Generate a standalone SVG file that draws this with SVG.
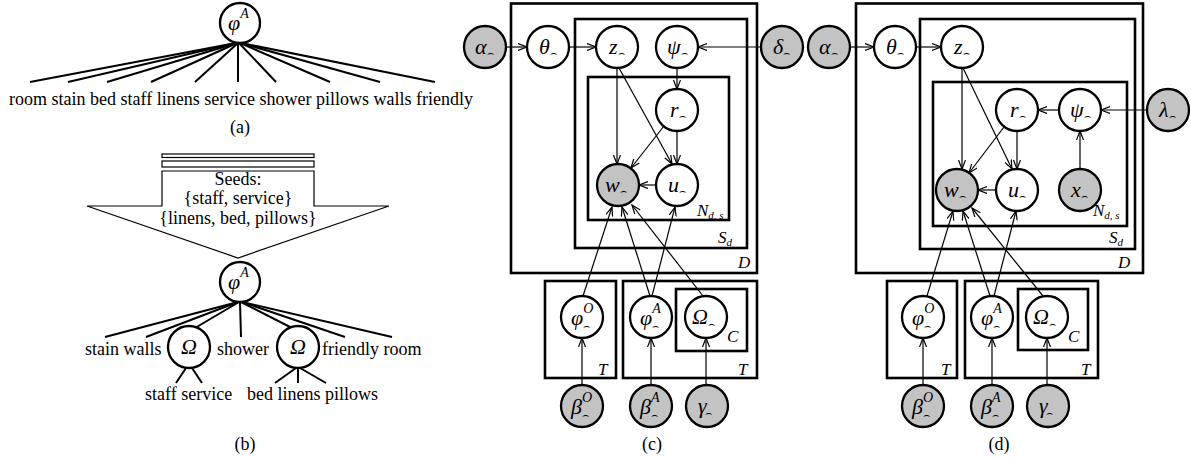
<svg xmlns="http://www.w3.org/2000/svg" width="1191" height="459" viewBox="0 0 1191 459">
<style>
  .bg { fill:#fff }
  .n { fill:#fff; stroke:#000; stroke-width:2.3 }
  .g { fill:#c3c3c3; stroke:#000; stroke-width:2.3 }
  .plate { fill:none; stroke:#000; stroke-width:2.6 }
  .e { stroke:#000; stroke-width:1.2; fill:none; marker-end:url(#ah) }
  .ln { stroke:#000; stroke-width:2; fill:none }
  .thin { stroke:#000; stroke-width:1.2; fill:none }
  text { font-family:'Liberation Serif','Times New Roman','DejaVu Serif',serif; fill:#000 }
  .t { font-size:18px }
  .tc { font-size:18px; text-anchor:middle }
  .m { font-style:italic; font-size:22px }
  .sup { font-size:14px }
  .arc { font-family:'DejaVu Sans',sans-serif; font-style:normal; font-size:11px }
  .pl { font-style:italic; font-size:17px }
  .pls { font-size:11px }
</style>
<defs>
  <marker id="ah" markerUnits="userSpaceOnUse" markerWidth="12" markerHeight="10" refX="9" refY="4" orient="auto">
    <path d="M0,0.5 L9,4 L0,7.5" fill="none" stroke="#000" stroke-width="1.2"/>
  </marker>
</defs>
<rect class="bg" width="1191" height="459"/>

<!-- (a) flat word distribution -->
<g id="a-tree">
  <g class="ln">
    <line x1="236" y1="43" x2="30" y2="82"/>
    <line x1="236" y1="43" x2="68" y2="82"/>
    <line x1="237" y1="43" x2="107" y2="82"/>
    <line x1="237" y1="43" x2="151" y2="82"/>
    <line x1="238" y1="43" x2="195" y2="82"/>
    <line x1="238" y1="43" x2="238" y2="82"/>
    <line x1="239" y1="43" x2="276" y2="82"/>
    <line x1="240" y1="43" x2="330" y2="82"/>
    <line x1="240" y1="43" x2="380" y2="82"/>
    <line x1="241" y1="43" x2="435" y2="82"/>
  </g>
  <text class="t" x="9" y="105">room stain bed staff linens service shower pillows walls friendly</text>
</g>
<g id="a-phi">
  <circle class="n" cx="240" cy="23" r="20"/>
  <text class="m" x="228" y="30">φ<tspan class="sup" dy="-12">A</tspan></text>
</g>
<text class="tc" x="240" y="133">(a)</text>

<!-- (b) seeded hierarchy -->
<g id="b-seeds">
  <rect class="thin" x="162" y="154" width="152" height="3.5"/>
  <rect class="thin" x="162" y="161" width="152" height="6"/>
  <path class="thin" d="M162,206 L162,171 L314,171 L314,206 L389,206 L238,258 L87,206 Z"/>
  <text class="tc" x="238" y="185">Seeds:</text>
  <text class="tc" x="238" y="204">{staff, service}</text>
  <text class="tc" x="238" y="224">{linens, bed, pillows}</text>
</g>
<g id="b-tree">
  <g class="ln">
    <line x1="238" y1="302" x2="105" y2="337"/>
    <line x1="238" y1="302" x2="146" y2="337"/>
    <line x1="239" y1="302" x2="195" y2="328"/>
    <line x1="240" y1="302" x2="241" y2="337"/>
    <line x1="241" y1="302" x2="292" y2="328"/>
    <line x1="242" y1="302" x2="345" y2="337"/>
    <line x1="242" y1="302" x2="392" y2="337"/>
    <line x1="186" y1="368" x2="176" y2="383"/>
    <line x1="192" y1="368" x2="202" y2="383"/>
    <line x1="296" y1="368" x2="275" y2="383"/>
    <line x1="298" y1="368" x2="298" y2="383"/>
    <line x1="300" y1="368" x2="326" y2="383"/>
  </g>
  <text class="t" x="85" y="355">stain walls</text>
  <text class="t" x="217" y="355">shower</text>
  <text class="t" x="322" y="355">friendly room</text>
  <text class="t" x="145" y="400">staff service</text>
  <text class="t" x="247" y="400">bed linens pillows</text>
</g>
<g id="b-phi">
  <circle class="n" cx="240" cy="282" r="20"/>
  <text class="m" x="228" y="289">φ<tspan class="sup" dy="-12">A</tspan></text>
</g>
<g id="b-omega1">
  <circle class="n" cx="189" cy="347" r="21"/>
  <text class="m" x="189" y="354" text-anchor="middle">Ω</text>
</g>
<g id="b-omega2">
  <circle class="n" cx="298" cy="347" r="21"/>
  <text class="m" x="298" y="354" text-anchor="middle">Ω</text>
</g>
<text class="tc" x="245" y="450">(b)</text>

<!-- (c) plates -->
<g id="c-plates">
  <rect class="plate" x="511" y="3.5" width="246" height="269.5"/>
  <rect class="plate" x="575" y="19" width="172" height="229"/>
  <rect class="plate" x="588" y="77" width="141" height="143"/>
  <rect class="plate" x="545" y="281" width="71" height="97"/>
  <rect class="plate" x="623" y="281" width="134" height="97"/>
  <rect class="plate" x="676" y="289" width="71" height="62"/>
  <text class="pl" x="697" y="216">N<tspan class="pls" dy="3">d, s</tspan></text>
  <text class="pl" x="718" y="243">S<tspan class="pls" dy="3">d</tspan></text>
  <text class="pl" x="738" y="268">D</text>
  <text class="pl" x="598" y="375">T</text>
  <text class="pl" x="738" y="375">T</text>
  <text class="pl" x="727" y="342">C</text>
</g>
<g id="c-edges">
  <line class="e" x1="506" y1="47" x2="527" y2="47"/>
  <line class="e" x1="569" y1="47" x2="596" y2="47"/>
  <line class="e" x1="761" y1="47" x2="698" y2="47"/>
  <line class="e" x1="677" y1="68" x2="677" y2="89"/>
  <line class="e" x1="617" y1="68" x2="617" y2="164"/>
  <line class="e" x1="619" y1="68" x2="672" y2="164"/>
  <line class="e" x1="664" y1="126" x2="631" y2="168"/>
  <line class="e" x1="677" y1="131" x2="677" y2="164"/>
  <line class="e" x1="656" y1="185" x2="639" y2="185"/>
  <line class="e" x1="583" y1="296" x2="612" y2="207"/>
  <line class="e" x1="650" y1="296" x2="622" y2="207"/>
  <line class="e" x1="652" y1="296" x2="675" y2="207"/>
  <line class="e" x1="703" y1="296" x2="632" y2="205"/>
  <line class="e" x1="582" y1="385" x2="582" y2="338"/>
  <line class="e" x1="651" y1="385" x2="651" y2="338"/>
  <line class="e" x1="706" y1="385" x2="706" y2="338"/>
</g>
<g id="c-alpha"><circle class="g" cx="485" cy="47" r="21"/><text class="m" x="475" y="54">α<tspan class="arc" dy="3">⌢</tspan></text></g>
<g id="c-theta"><circle class="n" cx="548" cy="47" r="21"/><text class="m" x="539" y="54">θ<tspan class="arc" dy="3">⌢</tspan></text></g>
<g id="c-z"><circle class="n" cx="617" cy="47" r="21"/><text class="m" x="609" y="54">z<tspan class="arc" dy="3">⌢</tspan></text></g>
<g id="c-psi"><circle class="n" cx="677" cy="47" r="21"/><text class="m" x="667" y="54">ψ<tspan class="arc" dy="3">⌢</tspan></text></g>
<g id="c-delta"><circle class="g" cx="782" cy="47" r="21"/><text class="m" x="773" y="54">δ<tspan class="arc" dy="3">⌢</tspan></text></g>
<g id="c-r"><circle class="n" cx="677" cy="110" r="21"/><text class="m" x="670" y="117">r<tspan class="arc" dy="3">⌢</tspan></text></g>
<g id="c-w"><circle class="g" cx="618" cy="185" r="21"/><text class="m" x="605" y="192">w<tspan class="arc" dy="3">⌢</tspan></text></g>
<g id="c-u"><circle class="n" cx="677" cy="185" r="21"/><text class="m" x="668" y="192">u<tspan class="arc" dy="3">⌢</tspan></text></g>
<g id="c-phiO"><circle class="n" cx="582" cy="317" r="21"/><text class="m" x="571" y="325">φ<tspan class="sup" dy="-12">O</tspan><tspan class="arc" dx="-10" dy="17">⌢</tspan></text></g>
<g id="c-phiA"><circle class="n" cx="651" cy="317" r="21"/><text class="m" x="640" y="325">φ<tspan class="sup" dy="-12">A</tspan><tspan class="arc" dx="-8.6" dy="17">⌢</tspan></text></g>
<g id="c-omega"><circle class="n" cx="706" cy="317" r="21"/><text class="m" x="692" y="324">Ω<tspan class="arc" dy="4">⌢</tspan></text></g>
<g id="c-betaO"><circle class="g" cx="582" cy="406" r="21"/><text class="m" x="571" y="414">β<tspan class="sup" dy="-12">O</tspan><tspan class="arc" dx="-10" dy="17">⌢</tspan></text></g>
<g id="c-betaA"><circle class="g" cx="651" cy="406" r="21"/><text class="m" x="640" y="414">β<tspan class="sup" dy="-12">A</tspan><tspan class="arc" dx="-8.6" dy="17">⌢</tspan></text></g>
<g id="c-gamma"><circle class="g" cx="707" cy="406" r="21"/><text class="m" x="698" y="413">γ<tspan class="arc" dx="-2" dy="4">⌢</tspan></text></g>
<text class="tc" x="652" y="450">(c)</text>

<!-- (d) plates -->
<g id="d-plates">
  <rect class="plate" x="856" y="3.5" width="287" height="269.5"/>
  <rect class="plate" x="920" y="19" width="215" height="230"/>
  <rect class="plate" x="933" y="82" width="194" height="144"/>
  <rect class="plate" x="887" y="281" width="70" height="97"/>
  <rect class="plate" x="965" y="281" width="133" height="97"/>
  <rect class="plate" x="1018" y="289" width="70" height="61"/>
  <text class="pl" x="1093" y="216">N<tspan class="pls" dy="3">d, s</tspan></text>
  <text class="pl" x="1109" y="243">S<tspan class="pls" dy="3">d</tspan></text>
  <text class="pl" x="1118" y="268">D</text>
  <text class="pl" x="941" y="375">T</text>
  <text class="pl" x="1081" y="375">T</text>
  <text class="pl" x="1068" y="342">C</text>
</g>
<g id="d-edges">
  <line class="e" x1="850" y1="47" x2="874" y2="47"/>
  <line class="e" x1="916" y1="47" x2="941" y2="47"/>
  <line class="e" x1="962" y1="68" x2="962" y2="169"/>
  <line class="e" x1="963" y1="68" x2="1012" y2="169"/>
  <line class="e" x1="1004" y1="127" x2="969" y2="173"/>
  <line class="e" x1="1017" y1="131" x2="1017" y2="169"/>
  <line class="e" x1="996" y1="190" x2="978" y2="190"/>
  <line class="e" x1="1059" y1="110" x2="1038" y2="110"/>
  <line class="e" x1="1080" y1="169" x2="1080" y2="131"/>
  <line class="e" x1="1147" y1="110" x2="1101" y2="110"/>
  <line class="e" x1="927" y1="296" x2="953" y2="211"/>
  <line class="e" x1="990" y1="296" x2="963" y2="211"/>
  <line class="e" x1="994" y1="296" x2="1016" y2="211"/>
  <line class="e" x1="1043" y1="296" x2="972" y2="208"/>
  <line class="e" x1="923" y1="385" x2="923" y2="338"/>
  <line class="e" x1="992" y1="385" x2="992" y2="338"/>
  <line class="e" x1="1047" y1="385" x2="1047" y2="338"/>
</g>
<g id="d-alpha"><circle class="g" cx="829" cy="47" r="21"/><text class="m" x="819" y="54">α<tspan class="arc" dy="3">⌢</tspan></text></g>
<g id="d-theta"><circle class="n" cx="895" cy="47" r="21"/><text class="m" x="886" y="54">θ<tspan class="arc" dy="3">⌢</tspan></text></g>
<g id="d-z"><circle class="n" cx="962" cy="47" r="21"/><text class="m" x="954" y="54">z<tspan class="arc" dy="3">⌢</tspan></text></g>
<g id="d-r"><circle class="n" cx="1017" cy="110" r="21"/><text class="m" x="1010" y="117">r<tspan class="arc" dy="3">⌢</tspan></text></g>
<g id="d-psi"><circle class="n" cx="1080" cy="110" r="21"/><text class="m" x="1070" y="117">ψ<tspan class="arc" dy="3">⌢</tspan></text></g>
<g id="d-lambda"><circle class="g" cx="1168" cy="110" r="21"/><text class="m" x="1159" y="117">λ<tspan class="arc" dy="3">⌢</tspan></text></g>
<g id="d-w"><circle class="g" cx="957" cy="190" r="21"/><text class="m" x="944" y="197">w<tspan class="arc" dy="3">⌢</tspan></text></g>
<g id="d-u"><circle class="n" cx="1017" cy="190" r="21"/><text class="m" x="1008" y="197">u<tspan class="arc" dy="3">⌢</tspan></text></g>
<g id="d-x"><circle class="g" cx="1080" cy="190" r="21"/><text class="m" x="1071" y="197">x<tspan class="arc" dy="3">⌢</tspan></text></g>
<g id="d-phiO"><circle class="n" cx="923" cy="317" r="21"/><text class="m" x="912" y="325">φ<tspan class="sup" dy="-12">O</tspan><tspan class="arc" dx="-10" dy="17">⌢</tspan></text></g>
<g id="d-phiA"><circle class="n" cx="992" cy="317" r="21"/><text class="m" x="981" y="325">φ<tspan class="sup" dy="-12">A</tspan><tspan class="arc" dx="-8.6" dy="17">⌢</tspan></text></g>
<g id="d-omega"><circle class="n" cx="1047" cy="317" r="21"/><text class="m" x="1033" y="324">Ω<tspan class="arc" dy="4">⌢</tspan></text></g>
<g id="d-betaO"><circle class="g" cx="923" cy="406" r="21"/><text class="m" x="912" y="414">β<tspan class="sup" dy="-12">O</tspan><tspan class="arc" dx="-10" dy="17">⌢</tspan></text></g>
<g id="d-betaA"><circle class="g" cx="992" cy="406" r="21"/><text class="m" x="981" y="414">β<tspan class="sup" dy="-12">A</tspan><tspan class="arc" dx="-8.6" dy="17">⌢</tspan></text></g>
<g id="d-gamma"><circle class="g" cx="1048" cy="406" r="21"/><text class="m" x="1039" y="413">γ<tspan class="arc" dx="-2" dy="4">⌢</tspan></text></g>
<text class="tc" x="999" y="450">(d)</text>
</svg>
